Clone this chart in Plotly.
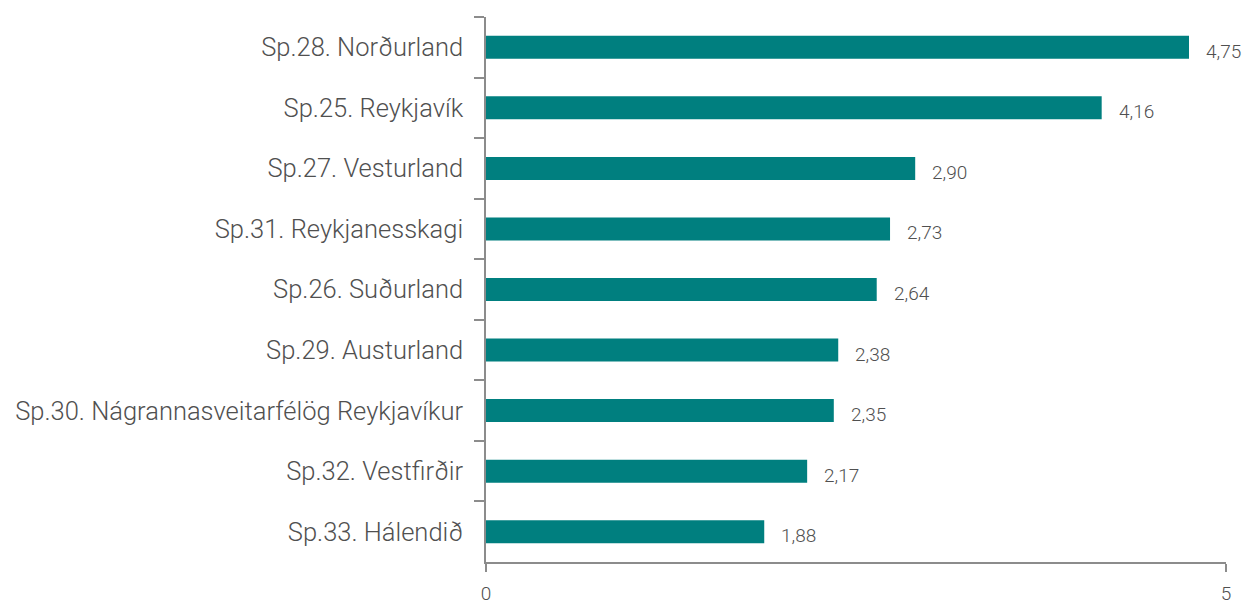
import plotly.graph_objects as go

categories = [
    "Sp.28. Norðurland",
    "Sp.25. Reykjavík",
    "Sp.27. Vesturland",
    "Sp.31. Reykjanesskagi",
    "Sp.26. Suðurland",
    "Sp.29. Austurland",
    "Sp.30. Nágrannasveitarfélög Reykjavíkur",
    "Sp.32. Vestfirðir",
    "Sp.33. Hálendið",
]
values = [4.75, 4.16, 2.90, 2.73, 2.64, 2.38, 2.35, 2.17, 1.88]
x_ticks = [0, 5]

BAR = "#007F7F"
TXT = "#505050"
AX = "#8C8C8C"
FONT = "Roboto, Lato, sans-serif"

fig = go.Figure()
fig.add_trace(go.Bar(
    x=values, y=categories, orientation="h",
    marker=dict(color=BAR, line=dict(width=0)),
    width=0.38, hoverinfo="skip",
))

for c, v in zip(categories, values):
    fig.add_annotation(
        x=v, y=c, xref="x", yref="y",
        text=f"{v:.2f}".replace(".", ","),
        showarrow=False, xanchor="left", yanchor="middle",
        xshift=15, yshift=-4,
        font=dict(family=FONT, size=19, color=TXT, weight=300),
    )

fig.update_layout(
    width=1246, height=605,
    margin=dict(l=486, r=20, t=17, b=43),
    plot_bgcolor="white", paper_bgcolor="white",
    showlegend=False,
    font=dict(family=FONT, color=TXT),
)
fig.update_xaxes(
    range=[0, 5], tickvals=x_ticks, ticktext=[str(t) for t in x_ticks],
    showgrid=False, zeroline=False, automargin=False,
    showline=True, linecolor=AX, linewidth=1.5,
    ticks="outside", ticklen=8, tickcolor=AX, tickwidth=1.5,
    tickfont=dict(family=FONT, size=19, color=TXT, weight=300),
    ticklabelstandoff=5,
)
fig.update_yaxes(
    type="category", categoryorder="array", categoryarray=categories,
    autorange="reversed",
    showgrid=False, zeroline=False, automargin=False,
    showline=True, linecolor=AX, linewidth=1.5,
    ticks="outside", ticklen=10, tickcolor=AX, tickwidth=1.5,
    tickson="boundaries",
    tickfont=dict(family=FONT, size=25.5, color=TXT, weight=300),
    ticklabelstandoff=16,
)

fig.write_html(
    "out.html",
    config={"displayModeBar": False},
    post_script="document.body.style.margin='0';document.body.style.overflow='hidden';",
)
